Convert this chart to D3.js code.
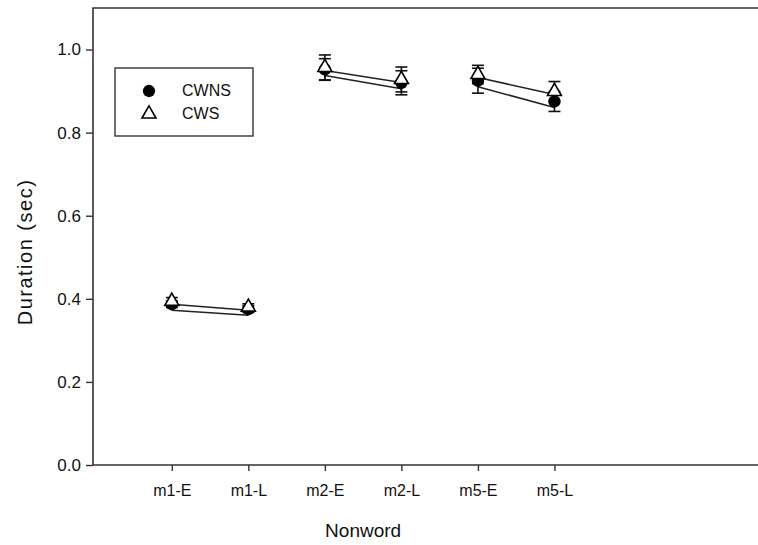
<!DOCTYPE html>
<html>
<head>
<meta charset="utf-8">
<script src="https://cdn.jsdelivr.net/npm/d3@7"></script>
<style>
  body { margin: 0; background: #fff; }
  svg { display: block; font-family: Arial, "Liberation Sans", sans-serif; }
</style>
</head>
<body>
<div id="chart"></div>
<script>
const categories = ['m1-E', 'm1-L', 'm2-E', 'm2-L', 'm5-E', 'm5-L'];
const cwnsMean   = [0.387, 0.375, 0.952, 0.920, 0.925, 0.875];
const cwnsErr    = [0.008, 0.008, 0.026, 0.029, 0.030, 0.024];
const cwsMean    = [0.394, 0.380, 0.957, 0.928, 0.940, 0.899];
const cwsErr     = [0.009, 0.008, 0.030, 0.030, 0.022, 0.024];
const yTicks     = [0, 0.2, 0.4, 0.6, 0.8, 1.0];

const W = 758, H = 545;
const plotLeft = 93, plotTop = 8, plotBottom = 465;

const svg = d3.select('#chart').append('svg')
  .attr('width', W).attr('height', H);

const x = d3.scaleLinear().domain([-1.03, 7.66]).range([plotLeft, W]);
const y = d3.scaleLinear().domain([0, 1.1]).range([plotBottom, plotTop]);

// frame (right side runs off the picture)
svg.append('path')
  .attr('d', `M${W + 2},${plotTop}H${plotLeft}V${plotBottom}H${W + 2}`)
  .attr('fill', 'none').attr('stroke', '#333').attr('stroke-width', 1.6);

// y axis
const yAxis = svg.append('g')
  .attr('transform', `translate(${plotLeft},0)`)
  .call(d3.axisLeft(y).tickValues(yTicks).tickFormat(d3.format('.1f')).tickSize(7).tickPadding(5));
yAxis.select('.domain').remove();
yAxis.selectAll('line').attr('stroke', '#333').attr('stroke-width', 1.4);
yAxis.selectAll('text').attr('font-size', 17).attr('fill', '#111');

// x axis
const xAxis = svg.append('g')
  .attr('transform', `translate(0,${plotBottom})`)
  .call(d3.axisBottom(x).tickValues(d3.range(categories.length))
    .tickFormat(i => categories[i]).tickSize(6).tickPadding(14));
xAxis.select('.domain').remove();
xAxis.selectAll('line').attr('stroke', '#333').attr('stroke-width', 1.4);
xAxis.selectAll('text').attr('font-size', 16).attr('fill', '#111');

// titles
svg.append('text')
  .attr('transform', `translate(32,252) rotate(-90)`)
  .attr('text-anchor', 'middle')
  .attr('font-size', 20).attr('letter-spacing', 1.5).attr('fill', '#111')
  .text('Duration (sec)');
svg.append('text')
  .attr('x', (x(0) + x(categories.length - 1)) / 2).attr('y', 537)
  .attr('text-anchor', 'middle')
  .attr('font-size', 19).attr('fill', '#111')
  .text('Nonword');

// connecting lines, pairs of conditions (E -> L); drawn slightly below the markers
const pairs = [[0, 1], [2, 3], [4, 5]];
[[cwsMean, 3], [cwnsMean, 6]].forEach(([series, dy]) => {
  const g = svg.append('g').attr('transform', `translate(0,${dy})`);
  pairs.forEach(([a, b]) => {
    g.append('line')
      .attr('x1', x(a)).attr('y1', y(series[a]))
      .attr('x2', x(b)).attr('y2', y(series[b]))
      .attr('stroke', '#222').attr('stroke-width', 1.5);
  });
});

// error bars
function errorBars(means, errs) {
  const g = svg.append('g').attr('stroke', '#111').attr('stroke-width', 1.6);
  means.forEach((m, i) => {
    const cx = x(i), y0 = y(m - errs[i]), y1 = y(m + errs[i]);
    g.append('line').attr('x1', cx).attr('x2', cx).attr('y1', y0).attr('y2', y1);
    g.append('line').attr('x1', cx - 6).attr('x2', cx + 6).attr('y1', y0).attr('y2', y0);
    g.append('line').attr('x1', cx - 6).attr('x2', cx + 6).attr('y1', y1).attr('y2', y1);
  });
}
errorBars(cwnsMean, cwnsErr);
errorBars(cwsMean, cwsErr);

const circleSym = d3.symbol().type(d3.symbolCircle).size(120);
const triSym = d3.symbol().type(d3.symbolTriangle).size(85);

svg.append('g').selectAll('path')
  .data(cwnsMean)
  .join('path')
  .attr('transform', (d, i) => `translate(${x(i)},${y(d)})`)
  .attr('d', circleSym)
  .attr('fill', '#000');

svg.append('g').selectAll('path')
  .data(cwsMean)
  .join('path')
  .attr('transform', (d, i) => `translate(${x(i)},${y(d)})`)
  .attr('d', triSym)
  .attr('fill', '#fff').attr('stroke', '#000').attr('stroke-width', 1.6);

// legend
const lg = svg.append('g');
lg.append('rect')
  .attr('x', 115).attr('y', 68).attr('width', 138).attr('height', 68)
  .attr('fill', '#fff').attr('stroke', '#333').attr('stroke-width', 1.4);
lg.append('path').attr('transform', 'translate(149,91)').attr('d', circleSym).attr('fill', '#000');
lg.append('path').attr('transform', 'translate(149,114)').attr('d', triSym)
  .attr('fill', '#fff').attr('stroke', '#000').attr('stroke-width', 1.6);
lg.append('text').attr('x', 182).attr('y', 96).attr('font-size', 16).attr('fill', '#111').text('CWNS');
lg.append('text').attr('x', 182).attr('y', 119).attr('font-size', 16).attr('fill', '#111').text('CWS');
</script>
</body>
</html>
